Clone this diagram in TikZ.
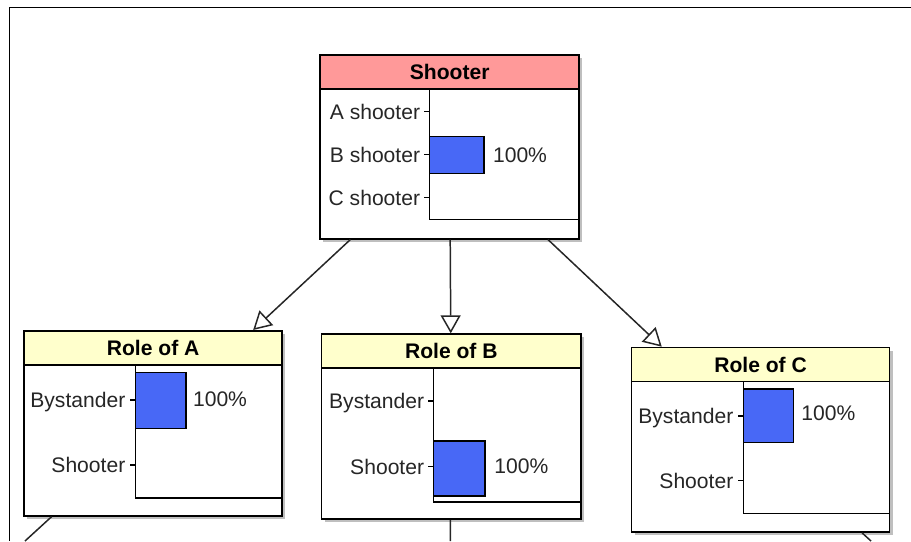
\documentclass[tikz,border=0pt]{standalone}
\usepackage{fontspec}
\setmainfont{Liberation Sans}
\usetikzlibrary{arrows.meta,shadows}

\definecolor{headRed}{RGB}{255,153,153}
\definecolor{headYellow}{RGB}{255,255,204}
\definecolor{barBlue}{RGB}{72,104,246}

\begin{document}
\begin{tikzpicture}[x=0.02cm, y=-0.02cm,
  every node/.style={font=\fontsize{12}{14}\selectfont},
  netbox/.style={draw, line width=1pt, fill=white, anchor=north west, inner sep=0pt,
    drop shadow={shadow xshift=0.06cm, shadow yshift=-0.06cm, fill=black!25, opacity=1}},
  headbox/.style={draw, line width=1pt, anchor=north west, inner sep=0pt,
    minimum height=0.68cm, text height=8.6pt, text depth=0pt,
    font=\bfseries\fontsize{12}{14}\selectfont},
  lab/.style={anchor=east, inner xsep=2pt, inner ysep=0pt, text height=8.6pt, text depth=0pt, text=black!85},
  pct/.style={anchor=west, inner sep=0pt, text height=8.6pt, text depth=0pt, text=black!85},
  axis/.style={line width=0.9pt},
  tick/.style={line width=0.8pt},
  bar/.style={draw, line width=0.9pt, fill=barBlue},
  link/.style={draw=black!85, line width=0.85pt, -{Triangle[open, length=0.36cm, width=0.40cm]}},
  wire/.style={draw=black!85, line width=0.85pt},
  frame/.style={line width=1pt}
]
\useasboundingbox (0,0) rectangle (911,541);
% Frame of the view
\draw[frame] (911,7.5) -- (9.5,7.5) -- (9.5,541);
% Shooter
\node[netbox, minimum width=5.18cm, minimum height=3.67cm] (shooter) at (319.3,54.3) {};
\node[headbox, fill=headRed, minimum width=5.18cm] (shooterHead) at (shooter.north west) {Shooter};
\draw[axis] (429.3,88.3) |- (578.3,219.7);
\draw[tick] (429.3,111.7) -- (424.3,111.7) node[lab] (shA) {A shooter};
\draw[tick] (429.3,154.5) -- (424.3,154.5) node[lab] (shB) {B shooter};
\draw[tick] (429.3,197.5) -- (424.3,197.5) node[lab] (shC) {C shooter};
\draw[bar] (429.3,136.7) rectangle (483.7,173.3);
\node[pct] (shPct) at (492.7,154.5) {100\%};
% Role of A
\node[netbox, minimum width=5.16cm, minimum height=3.70cm] (roleA) at (23.3,330) {};
\node[headbox, fill=headYellow, minimum width=5.16cm] (roleAHead) at (roleA.north west) {Role of A};
\draw[axis] (135.7,364.3) |- (281,497.7);
\draw[tick] (135.7,400) -- (129.5,400) node[lab] (raBy) {Bystander};
\draw[tick] (135.7,465) -- (129.5,465) node[lab] (raSh) {Shooter};
\draw[bar] (135.7,372.7) rectangle (186,428.3);
\node[pct] (raPct) at (192.7,399.3) {100\%};
% Role of B
\node[netbox, minimum width=5.19cm, minimum height=3.70cm] (roleB) at (320.7,333.3) {};
\node[headbox, fill=headYellow, minimum width=5.19cm] (roleBHead) at (roleB.north west) {Role of B};
\draw[axis] (433.3,367.7) |- (580.2,501.7);
\draw[tick] (433.3,401) -- (428.3,401) node[lab] (rbBy) {Bystander};
\draw[tick] (433.3,466.7) -- (428.3,466.7) node[lab] (rbSh) {Shooter};
\draw[bar] (433.3,440.7) rectangle (485,495.7);
\node[pct] (rbPct) at (494,466) {100\%};
% Role of C
\node[netbox, minimum width=5.16cm, minimum height=3.69cm] (roleC) at (630.7,346.7) {};
\node[headbox, fill=headYellow, minimum width=5.16cm] (roleCHead) at (roleC.north west) {Role of C};
\draw[axis] (743.3,381.7) |- (888.7,513.3);
\draw[tick] (743.3,416) -- (737.5,416) node[lab] (rcBy) {Bystander};
\draw[tick] (743.3,480.7) -- (737.5,480.7) node[lab] (rcSh) {Shooter};
\draw[bar] (743.3,389) rectangle (793.3,442.3);
\node[pct] (rcPct) at (801,413.3) {100\%};
% Links
\draw[link] (shooter) -- (roleA);
\draw[link] (shooter) -- (roleB);
\draw[link] (shooter) -- (roleC);
% Links leaving the view
\coordinate (offA) at (25,541);
\coordinate (offB) at (450.3,541);
\coordinate (offC) at (871,541);
\draw[wire] (roleA) -- (offA);
\draw[wire] (roleB) -- (offB);
\draw[wire] (roleC) -- (offC);
\end{tikzpicture}
\end{document}
